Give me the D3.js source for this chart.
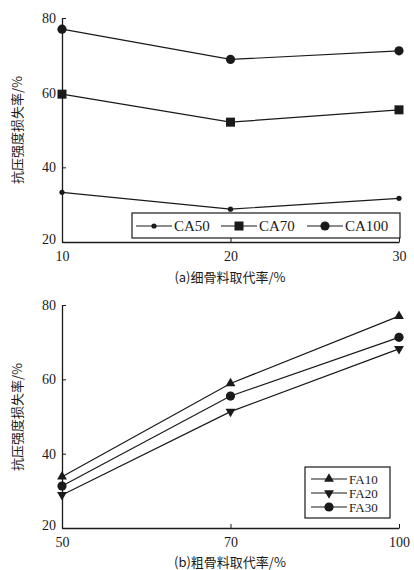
<!DOCTYPE html>
<html lang="en">
<head>
<meta charset="UTF-8">
<title>抗压强度损失率</title>
<script src="https://d3js.org/d3.v7.min.js"></script>
<style>
  body { margin: 0; background: #fff; }
  text { fill: #1a1a1a; }
</style>
</head>
<body>
<script>
  // panel (a): fine aggregate replacement
  const catsA = [10, 20, 30];
  const ca50 = [33.3, 28.8, 31.7];
  const ca70 = [59.6, 52.1, 55.4];
  const ca100 = [77.0, 68.9, 71.2];

  // panel (b): coarse aggregate replacement
  const catsB = [50, 70, 100];
  const fa10 = [33.8, 58.9, 77.0];
  const fa20 = [28.9, 51.3, 68.2];
  const fa30 = [31.3, 55.5, 71.3];

  const yTicks = [20, 40, 60, 80];

  const W = 414, H = 570;
  const ink = '#1a1a1a';
  const serif = '"Liberation Serif", "DejaVu Serif", serif';
  const cjk = '"Noto Sans CJK SC", sans-serif';

  const svg = d3.select('body').append('svg').attr('width', W).attr('height', H);

  function marker(g, type, x, y) {
    if (type === 'dot') g.append('circle').attr('cx', x).attr('cy', y).attr('r', 2.6).attr('fill', ink);
    else if (type === 'circle') g.append('circle').attr('cx', x).attr('cy', y).attr('r', 4.6).attr('fill', ink);
    else if (type === 'square') g.append('rect').attr('x', x - 4.5).attr('y', y - 4.5).attr('width', 9).attr('height', 9).attr('fill', ink);
    else {
      g.append('path').attr('d', d3.symbol(d3.symbolTriangle, 42)())
        .attr('transform', `translate(${x},${y})` + (type === 'down' ? ' rotate(180)' : ''))
        .attr('fill', ink);
    }
  }

  function panel(opt) {
    const x = d3.scalePoint().domain(opt.cats).range([62, 399]);
    const y = d3.scaleLinear().domain([20, 80]).range([opt.bottom, opt.top]);
    const g = svg.append('g');

    const yAxis = g.append('g').attr('transform', 'translate(62,0)')
      .call(d3.axisRight(y).tickValues(yTicks).tickSize(4).tickSizeOuter(0));
    yAxis.selectAll('text').attr('x', -6).attr('text-anchor', 'end')
      .attr('dy', (d) => d === 20 ? '0.1em' : '0.32em');
    const xAxis = g.append('g').attr('transform', `translate(0,${opt.bottom})`)
      .call(d3.axisTop(x).tickSize(4).tickSizeOuter(0));
    xAxis.selectAll('text').attr('y', 8).attr('dy', '0.8em');
    g.selectAll('.domain').attr('stroke', ink).attr('stroke-width', 1.3);
    g.selectAll('.tick line').attr('stroke', ink);
    g.selectAll('.tick text').attr('font-family', serif).attr('font-size', 14).attr('fill', ink);

    const line = d3.line().x((d, i) => x(opt.cats[i])).y((d) => y(d));
    opt.series.forEach((s) => {
      g.append('path').datum(s.values).attr('d', line)
        .attr('fill', 'none').attr('stroke', ink).attr('stroke-width', 1.2);
      s.values.forEach((v, i) => marker(g, s.mark, x(opt.cats[i]), y(v)));
    });

    g.append('text').attr('transform', `translate(22,${opt.ylabelY}) rotate(-90)`)
      .attr('text-anchor', 'middle').attr('font-family', cjk).attr('font-size', 13)
      .text('抗压强度损失率/%');
    g.append('text').attr('x', 230).attr('y', opt.xlabelY)
      .attr('text-anchor', 'middle').attr('font-family', cjk).attr('font-size', 13)
      .text(opt.xlabel);

    // legend
    const lg = opt.legend;
    g.append('rect').attr('x', lg.x).attr('y', lg.y).attr('width', lg.w).attr('height', lg.h)
      .attr('fill', '#fff').attr('stroke', ink).attr('stroke-width', 1.2);
    opt.series.forEach((s, i) => {
      const p = lg.items[i];
      g.append('line').attr('x1', p.x).attr('x2', p.x + 36).attr('y1', p.y).attr('y2', p.y)
        .attr('stroke', ink).attr('stroke-width', 1.2);
      marker(g, s.mark, p.x + 18, p.y);
      g.append('text').attr('x', p.x + 38).attr('y', p.y).attr('dy', '0.35em')
        .attr('font-family', serif).attr('font-size', lg.fs).text(s.name);
    });
  }

  panel({
    cats: catsA, top: 18, bottom: 242, ylabelY: 130, xlabelY: 282,
    xlabel: '(a)细骨料取代率/%',
    series: [
      { name: 'CA50', values: ca50, mark: 'dot' },
      { name: 'CA70', values: ca70, mark: 'square' },
      { name: 'CA100', values: ca100, mark: 'circle' }
    ],
    legend: { x: 132, y: 213, w: 268, h: 25, fs: 15,
      items: [{ x: 136, y: 226 }, { x: 221, y: 226 }, { x: 307, y: 226 }] }
  });

  panel({
    cats: catsB, top: 305, bottom: 528, ylabelY: 417, xlabelY: 567,
    xlabel: '(b)粗骨料取代率/%',
    series: [
      { name: 'FA10', values: fa10, mark: 'up' },
      { name: 'FA20', values: fa20, mark: 'down' },
      { name: 'FA30', values: fa30, mark: 'circle' }
    ],
    legend: { x: 305, y: 467, w: 85, h: 51, fs: 13,
      items: [{ x: 311, y: 479 }, { x: 311, y: 493 }, { x: 311, y: 507 }] }
  });
</script>
</body>
</html>
